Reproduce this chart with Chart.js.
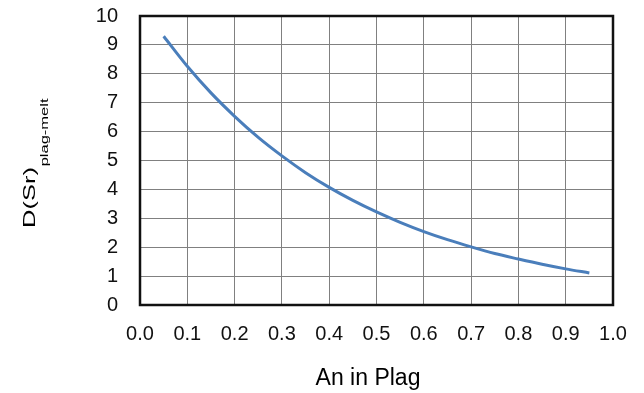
<!DOCTYPE html>
<html>
<head>
<meta charset="utf-8">
<script src="https://cdn.jsdelivr.net/npm/chart.js@4.4.1/dist/chart.umd.min.js"></script>
<style>
  html, body { margin: 0; padding: 0; background: #fff; }
  #wrap { width: 644px; height: 393px; }
</style>
</head>
<body>
<div id="wrap"><canvas id="srChart" width="644" height="393"></canvas></div>
<script>
// Sr partition coefficient between plagioclase and melt vs anorthite content
const anValues = [0.05, 0.10, 0.15, 0.20, 0.25, 0.30, 0.35, 0.40, 0.45, 0.50,
                  0.55, 0.60, 0.65, 0.70, 0.75, 0.80, 0.85, 0.90, 0.95];
const dSrValues = [9.30, 8.26, 7.34, 6.53, 5.80, 5.16, 4.58, 4.07, 3.62, 3.22,
                   2.86, 2.54, 2.26, 2.01, 1.78, 1.59, 1.41, 1.25, 1.11];
const xTitle = 'An in Plag';
const yTitleMain = 'D(Sr)';
const yTitleSub = 'plag-melt';

const points = anValues.map((x, i) => ({ x: x, y: dSrValues[i] }));

// Frame round the plot area and the axis titles (the y title has a subscript)
const framePlugin = {
  id: 'frameAndTitles',
  afterDraw: (chart) => {
    const { ctx, chartArea } = chart;
    ctx.save();
    ctx.strokeStyle = '#111';
    ctx.lineWidth = 2.5;
    ctx.strokeRect(chartArea.left, chartArea.top,
                   chartArea.right - chartArea.left, chartArea.bottom - chartArea.top);

    ctx.fillStyle = '#000';
    ctx.font = '23px "Liberation Sans", Arial, sans-serif';
    ctx.textAlign = 'center';
    ctx.textBaseline = 'alphabetic';
    ctx.fillText(xTitle, 368, 385);

    // y title, rotated and drawn a bit stretched along its length
    ctx.translate(35, 228);
    ctx.rotate(-Math.PI / 2);
    ctx.scale(1.5, 1);
    ctx.textAlign = 'left';
    ctx.font = '17px "Liberation Sans", Arial, sans-serif';
    ctx.fillText(yTitleMain, 0, 0);
    const w = ctx.measureText(yTitleMain).width;
    ctx.font = '11px "Liberation Sans", Arial, sans-serif';
    ctx.fillText(yTitleSub, w + 0.5, 13);
    ctx.restore();
  }
};

const ctx = document.getElementById('srChart').getContext('2d');
new Chart(ctx, {
  type: 'scatter',
  data: {
    datasets: [{
      label: 'D(Sr)',
      data: points,
      showLine: true,
      borderColor: '#4A7EBB',
      borderWidth: 3,
      pointRadius: 0,
      cubicInterpolationMode: 'monotone',
      fill: false
    }]
  },
  options: {
    responsive: false,
    animation: false,
    layout: { padding: { top: 16, right: 31, left: 0, bottom: 0 } },
    plugins: {
      legend: { display: false },
      tooltip: { enabled: false }
    },
    scales: {
      x: {
        type: 'linear',
        min: 0,
        max: 1,
        afterFit: (scale) => {
          scale.height = 88;
          scale.paddingLeft = 0;
          scale.paddingRight = 0;
        },
        ticks: {
          stepSize: 0.1,
          padding: 17,
          color: '#111',
          font: { size: 20, family: '"Liberation Sans", Arial, sans-serif' },
          callback: (v) => v.toFixed(1)
        },
        grid: { color: '#808080', lineWidth: 1, drawTicks: false },
        border: { display: false }
      },
      y: {
        min: 0,
        max: 10,
        afterFit: (scale) => {
          scale.width = 140;
          scale.paddingTop = 0;
          scale.paddingBottom = 0;
        },
        ticks: {
          stepSize: 1,
          padding: 22,
          color: '#111',
          font: { size: 20, family: '"Liberation Sans", Arial, sans-serif' }
        },
        grid: { color: '#808080', lineWidth: 1, drawTicks: false },
        border: { display: false }
      }
    }
  },
  plugins: [framePlugin]
});
</script>
</body>
</html>
